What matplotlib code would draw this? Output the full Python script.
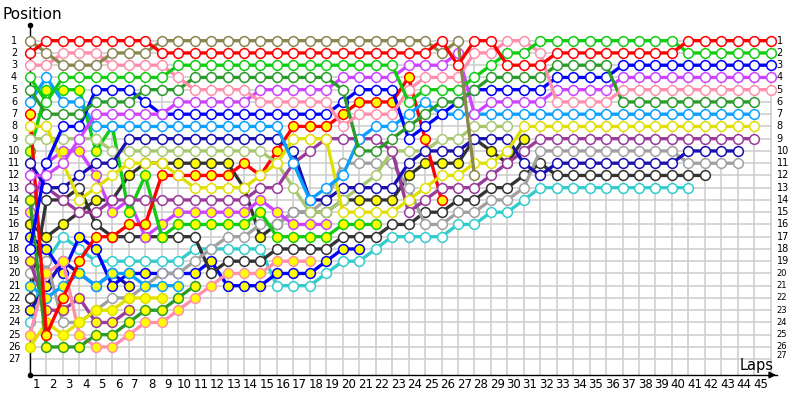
import matplotlib.pyplot as plt
import numpy as np

N = None
laps = list(range(46))

# position per lap (lap 0 = grid), None = not running
red_w = [2, 1, 1, 1, 1, 1, 1, 1, 2, 2,
         2, 2, 2, 2, 2, 2, 2, 2, 2, 2,
         2, 2, 2, 2, 2, 1, 3, 1, 1, 3,
         3, 3, 2, 2, 2, 2, 2, 2, 2, 2,
         1, 1, 1, 1, 1, 1]
olive_w = [1, 2, 3, 3, 3, 2, 2, 2, 1, 1,
           1, 1, 1, 1, 1, 1, 1, 1, 1, 1,
           1, 1, 1, 1, 1, 2, 1, 12]
pink_w = [3, 3, 2, 2, 2, 3, 3, 3, 3, 4,
          5, 5, 5, 5, 6, 6, 6, 6, 6, 8,
          7, 7, 7, 5, 4, 4, 4, 2, 2, 1,
          1, 2, 6, 6, 6, 6, 5, 5, 5, 5,
          5, 5, 5, 5, 5, 5]
green_w = [4, 6, 4, 4, 4, 4, 4, 4, 4, 3,
           3, 3, 3, 3, 3, 3, 3, 3, 3, 3,
           3, 3, 3, 6, 5, 5, 5, 4, 3, 2,
           2, 1, 1, 1, 1, 1, 1, 1, 1, 1,
           2, 2, 2, 2, 2, 2]
forest_w = [5, 7, 7, 7, 6, 6, 6, 5, 5, 5,
            4, 4, 4, 4, 4, 4, 4, 4, 4, 5,
            10, 10, 9, 8, 7, 6, 6, 5, 4, 4,
            4, 4, 3, 3, 3, 3, 6, 6, 6, 6,
            6, 6, 6, 6, 6]
sky_w = [6, 4, 6, 6, 8, 8, 8, 8, 8, 8,
         8, 8, 8, 8, 8, 8, 11, 14, 13, 12,
         9, 8, 8, 7, 6, 7, 7, 7, 7, 7,
         7, 7, 7, 7, 7, 7, 7, 7, 7, 7,
         7, 7, 7, 7, 7]
yellow_w = [8, 8, 11, 14, 13, 12, 11, 11, 11, 12,
            13, 13, 13, 13, 12, 11, 9, 9, 9, 15,
            15, 15, 15, 14, 13, 12, 12, 11, 11, 10,
            8, 8, 8, 8, 8, 8, 8, 8, 8, 8,
            8, 8, 8, 8, 8]
lgreen_w = [9, 9, 9, 9, 9, 10, 10, 10, 10, 10,
            10, 10, 10, 10, 10, 11, 13, 15, 15, 14,
            13, 12, 10, 10, 10, 9, 9, 8, 8, 8]
purple_w = [13, 13, 14, 15, 15, 14, 14, 14, 14, 14,
            14, 14, 14, 14, 13, 13, 11, 10, 9, 9,
            9, 9, 10, 15, 14, 13, 13, 13, 12, 11,
            10, 9, 9, 9, 9, 9, 9, 9, 9, 9,
            9, 9, 9, 9, 9]
navy_w = [11, 13, 13, 12, 11, 11, 9, 9, 9, 9,
          9, 9, 9, 9, 9, 9, 10, 14, 14, 13,
          13, 13, 13, 11, 10, 10, 10, 9, 9, 9,
          11, 12, 11, 11, 11, 11, 11, 11, 11, 11,
          10, 10, 10, 10]
violet_w = [12, 12, 11, 9, 7, 7, 7, 7, 7, 6,
            6, 6, 6, 6, 5, 5, 5, 5, 5, 4,
            4, 4, 4, 3, 3, 3, 2, 7, 6, 6,
            6, 6, 5, 5, 5, 5, 4, 4, 4, 4,
            4, 4, 4, 4, 4, 4]
blue_w = [18, 11, 8, 8, 5, 5, 5, 6, 7, 7,
          7, 7, 7, 7, 7, 7, 7, 7, 7, 6,
          5, 5, 5, 9, 8, 7, 6, 5, 5, 5,
          5, 5, 4, 4, 4, 4, 3, 3, 3, 3,
          3, 3, 3, 3, 3, 3]
gray_w = [20, 19, 24, 24, 23, 22, 22, 21, 20, 20,
          19, 18, 17, 17, 16, 16, 15, 15, 14, 11,
          11, 11, 11, 13, 16, 16, 15, 15, 14, 14,
          13, 10, 10, 10, 10, 10, 10, 10, 10, 10,
          11, 11, 11, 11]
black_w = [22, 14, 14, 13, 16, 17, 17, 17, 17, 17,
           17, 20, 19, 19, 19, 18, 18, 18, 18, 17,
           17, 17, 16, 16, 15, 15, 14, 14, 13, 13,
           12, 11, 12, 12, 12, 12, 12, 12, 12, 12,
           12, 12]
cyan_w = [24, 19, 17, 18, 19, 19, 19, 19, 19, 19,
          18, 18, 18, 18, 18, 21, 21, 21, 20, 19,
          19, 18, 17, 17, 17, 17, 16, 16, 15, 15,
          14, 13, 13, 13, 13, 13, 13, 13, 13, 13,
          13]
red_y = [7, 25, 22, 19, 17, 17, 16, 16, 12, 12,
         12, 12, 12, 11, 12, 10, 8, 8, 8, 7,
         6, 6, 6, 4, 9, 14]
green_y = [10, 5, 5, 5, 10, 8, 15, 12, 17, 16,
           16, 16, 16, 16, 15, 17, 17, 17, 17, 16,
           16, 16]
forest_y = [14, 26, 26, 26, 25, 25, 24, 23, 23, 22,
            21]
sky_y = [21, 22, 21, 20, 21, 20, 20, 21, 21, 21]
yellow_y = [26, 24, 25, 24, 23, 23, 22, 22, 22]
pink_y = [25, 20, 19, 25, 26, 26, 25, 24, 24, 23,
          22, 21, 20, 20, 20, 19, 19, 19]
purple_y = [19, 23, 23, 22, 24, 24, 23]
violet_y = [15, 11, 10, 10, 12, 15, 14, 17, 16, 15,
            15, 15, 15, 15, 14, 15, 16, 16, 16]
black_y = [16, 17, 16, 15, 14, 14, 12, 11, 11, 11,
           11, 11, 11, 13, 17, 16, 15, 15, 15, 14,
           14, 14, 14, 12, 11, 11, 11, 9, 10, 11,
           9]
blue_y = [17, 18, 20, 17, 18, 21, 20, 20, 20, 20,
          20, 19, 21, 21, 21, 20, 20, 20, 19, 18,
          18]
navy_y = [23, 21, 19, 20, 21, 20, 21]

YF = '#ffff00'
series = [
    (cyan_w, '#33cccc', 'white'),
    (navy_y, '#1a10b0', YF),
    (blue_y, '#0000ff', YF),
    (black_y, '#333333', YF),
    (black_w, '#333333', 'white'),
    (gray_w, '#a0a0a0', 'white'),
    (violet_y, '#cc44ff', YF),
    (purple_y, '#9a3a9a', YF),
    (pink_y, '#ff8fab', YF),
    (yellow_y, '#e0e000', YF),
    (sky_y, '#0aa0ff', YF),
    (forest_y, '#2a9a2a', YF),
    (green_y, '#11cc11', YF),
    (red_y, '#ff0000', YF),
    (lgreen_w, '#a8c870', 'white'),
    (purple_w, '#9a3a9a', 'white'),
    (navy_w, '#1a10b0', 'white'),
    (yellow_w, '#e0e000', 'white'),
    (sky_w, '#0aa0ff', 'white'),
    (blue_w, '#0000ff', 'white'),
    (violet_w, '#cc44ff', 'white'),
    (forest_w, '#2a9a2a', 'white'),
    (pink_w, '#ff8fab', 'white'),
    (green_w, '#11cc11', 'white'),
    (olive_w, '#8a8650', 'white'),
    (red_w, '#ff0000', 'white'),
]

fig = plt.figure(figsize=(8, 4), dpi=100)
ax = fig.add_axes([0, 0, 1, 1])
ax.set_xlim(-1.823, 46.78)
ax.set_ylim(30.33, -2.322)
ax.axis('off')

# grid
for lap in laps:
    ax.plot([lap, lap], [1, 28.29], color='#cccccc', lw=1.1, zorder=0)
for p in range(1, 28):
    ax.plot([0, 45], [p, p], color='#cccccc', lw=1.1, zorder=0)

# axes with arrows
ax.plot([0, 0], [-0.28, 28.29], color='black', lw=1, zorder=1)
ax.plot([0, 45.4], [28.29, 28.29], color='black', lw=1, zorder=1)
ax.plot([0], [-0.28], marker='o', color='black', ms=3, zorder=1)
ax.plot([0], [28.29], marker='o', color='black', ms=3, zorder=1)
ax.annotate('', xy=(45.5, 28.29), xytext=(44.9, 28.29),
            arrowprops=dict(arrowstyle='-|>', color='black', lw=1))

for vals, col, face in series:
    y = np.array(vals + [N] * (46 - len(vals)), dtype=float)
    ax.plot(laps, y, color=col, lw=2.4, marker='o', ms=7,
            mfc=face, mec=col, mew=1.1, zorder=3)

for p in range(1, 28):
    ax.text(-0.97, p, str(p), ha='center', va='center', fontsize=7)
    ax.text(45.35, p - (0.3 if p == 27 else 0), str(p), ha='left', va='center',
            fontsize=7 if p < 20 else 6)
for lap in range(1, 46):
    ax.text(lap - 0.62, 29.05, str(lap), ha='center', va='center', fontsize=8.5)

ax.text(-1.65, -1.1, 'Position', ha='left', va='center', fontsize=11)
ax.text(43.1, 27.5, 'Laps', ha='left', va='center', fontsize=10.5)

fig.savefig('out.png', dpi=100)
